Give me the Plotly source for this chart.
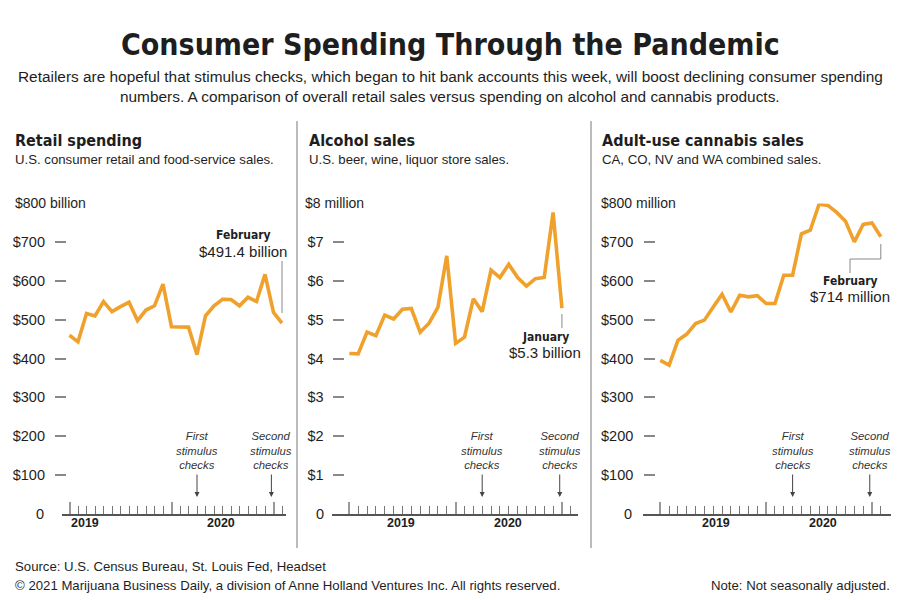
import plotly.graph_objects as go

# ---------------- data ----------------
months = ["Jan 2019", "Feb 2019", "Mar 2019", "Apr 2019", "May 2019", "Jun 2019",
          "Jul 2019", "Aug 2019", "Sep 2019", "Oct 2019", "Nov 2019", "Dec 2019",
          "Jan 2020", "Feb 2020", "Mar 2020", "Apr 2020", "May 2020", "Jun 2020",
          "Jul 2020", "Aug 2020", "Sep 2020", "Oct 2020", "Nov 2020", "Dec 2020",
          "Jan 2021", "Feb 2021"]
retail = [460, 443, 516, 510, 547, 521, 534, 545, 498, 525, 536, 592,
          482, 481, 481, 410, 510, 536, 553, 552, 536, 558, 547, 617, 519, 491.4]
alcohol = [4.13, 4.12, 4.68, 4.59, 5.12, 5.02, 5.27, 5.29, 4.68, 4.91, 5.32, 6.65,
           4.39, 4.55, 5.54, 5.21, 6.28, 6.09, 6.43, 6.09, 5.87, 6.06, 6.09, 7.77, 5.3]
cannabis = [395, 383, 447, 463, 490, 499, 533, 566, 520, 563, 559, 562,
            542, 542, 615, 615, 722, 731, 798, 795, 777, 754, 701, 746, 750, 714]

retail_ticks = [100, 200, 300, 400, 500, 600, 700]
retail_ticktext = ["$100", "$200", "$300", "$400", "$500", "$600", "$700"]
alcohol_ticks = [1, 2, 3, 4, 5, 6, 7]
alcohol_ticktext = ["$1", "$2", "$3", "$4", "$5", "$6", "$7"]
cannabis_ticks = retail_ticks
cannabis_ticktext = retail_ticktext
year_labels = ["2019", "2020"]
first_stimulus = 15      # April 2020 (month index)
second_stimulus = 23.75  # late Dec 2020 / early Jan 2021

ORANGE = "#F0A12C"
TXT = "#1e1e1e"
NARROW = "DejaVu Sans Condensed, DejaVu Sans, sans-serif"
BODY = "Liberation Sans, Arial, sans-serif"


def X(px):
    return px / 900.0


def Y(py):
    return 1 - py / 600.0


fig = go.Figure()

panels = [
    dict(key="", series=retail, top=800, ticks=retail_ticks, ticktext=retail_ticktext,
         x0=62, x1=286, i0=69.5, step=8.5, tick_left=54, standoff=9,
         unit_label="$800 billion", unit_x=13,
         head="Retail spending", sub="U.S. consumer retail and food-service sales.", head_x=13,
         year_px=[84.5, 221], nticks=26, zero_x=46),
    dict(key="2", series=alcohol, top=8, ticks=alcohol_ticks, ticktext=alcohol_ticktext,
         x0=331.7, x1=577.7, i0=349.3, step=8.86, tick_left=331.7, standoff=8,
         unit_label="$8 million", unit_x=303.3,
         head="Alcohol sales", sub="U.S. beer, wine, liquor store sales.", head_x=307,
         year_px=[401, 508], nticks=26, zero_x=325.7),
    dict(key="3", series=cannabis, top=800, ticks=cannabis_ticks, ticktext=cannabis_ticktext,
         x0=643.3, x1=890.7, i0=660.3, step=8.82, tick_left=643.3, standoff=10,
         unit_label="$800 million", unit_x=599.3,
         head="Adult-use cannabis sales", sub="CA, CO, NV and WA combined sales.", head_x=600,
         year_px=[716.3, 823.3], nticks=26, zero_x=634.3),
]

y_bottom_px, y_top_px = 513.5, 203.5
annotations = []
shapes = []

for p in panels:
    k = p["key"]
    xa = "x" + k
    ya = "y" + k
    idx = list(range(len(p["series"])))
    fig.add_trace(go.Scatter(x=idx, y=p["series"], mode="lines", xaxis=xa, yaxis=ya,
                             line=dict(color=ORANGE, width=3.6), hoverinfo="skip",
                             cliponaxis=False, showlegend=False))
    xr = [(p["x0"] - p["i0"]) / p["step"], (p["x1"] - p["i0"]) / p["step"]]
    fig.layout["xaxis" + k] = dict(
        domain=[X(p["x0"]), X(p["x1"])], range=xr, anchor=ya,
        showline=True, linecolor="#555", linewidth=1.5,
        showgrid=False, zeroline=False, showticklabels=False,
        ticks="inside", tickmode="array", tickvals=[0, 12, 24], ticklen=12,
        tickwidth=1.5, tickcolor="#999",
        minor=dict(tickmode="array", tickvals=list(range(p["nticks"])), ticks="inside",
                   ticklen=8, tickwidth=1.2, tickcolor="#777", showgrid=False),
        fixedrange=True)
    fig.layout["yaxis" + k] = dict(
        domain=[Y(y_bottom_px), Y(y_top_px)], range=[0, p["top"]],
        anchor="free", position=X(p["tick_left"]),
        showline=False, showgrid=False, zeroline=False,
        ticks="inside", ticklen=11, tickwidth=1.5, tickcolor="#888",
        tickmode="array", tickvals=p["ticks"], ticktext=p["ticktext"],
        tickfont=dict(family=BODY, size=14.5, color=TXT),
        ticklabelstandoff=p["standoff"], fixedrange=True)

    # zero label
    annotations.append(dict(x=X(p["zero_x"]), y=0, xref="paper", yref=ya,
                            text="0", showarrow=False, xanchor="right", yanchor="middle",
                            font=dict(family=BODY, size=14.5, color=TXT)))
    # unit label
    annotations.append(dict(x=X(p["unit_x"]), y=p["top"], xref="paper", yref=ya,
                            text=p["unit_label"], showarrow=False, xanchor="left",
                            yanchor="middle", font=dict(family=BODY, size=14, color=TXT)))
    # headings
    annotations.append(dict(x=X(p["head_x"]), y=Y(140), xref="paper", yref="paper",
                            text="<b>" + p["head"] + "</b>", showarrow=False, xanchor="left",
                            yanchor="middle", font=dict(family=NARROW, size=16, color=TXT)))
    annotations.append(dict(x=X(p["head_x"]), y=Y(160), xref="paper", yref="paper",
                            text=p["sub"], showarrow=False, xanchor="left",
                            yanchor="middle", font=dict(family=BODY, size=13.2, color=TXT)))
    # year labels
    for lab, px in zip(year_labels, p["year_px"]):
        annotations.append(dict(x=(px - p["i0"]) / p["step"], y=Y(523), xref=xa, yref="paper",
                                text="<b>" + lab + "</b>", showarrow=False, xanchor="center",
                                yanchor="middle", font=dict(family=BODY, size=12.5, color=TXT)))
    # stimulus notes
    for sx, note in [(first_stimulus, "First<br>stimulus<br>checks"),
                     (second_stimulus, "Second<br>stimulus<br>checks")]:
        annotations.append(dict(x=sx, y=Y(450.5), xref=xa, yref="paper",
                                text="<i>" + note + "</i>", showarrow=False, xanchor="center",
                                yanchor="middle", align="center",
                                font=dict(family=BODY, size=11.3, color="#333")))
        annotations.append(dict(x=sx, y=Y(497), xref=xa, yref="paper", text="",
                                showarrow=True, ax=0, ay=-24, arrowhead=2, arrowsize=1,
                                arrowwidth=1, arrowcolor="#444"))


# value call-outs
def callout(xa, xi, cy, bold, value):
    annotations.append(dict(x=xi, y=Y(cy), xref=xa, yref="paper", text="<b>" + bold + "</b>",
                            showarrow=False, xanchor="center", yanchor="middle",
                            font=dict(family=NARROW, size=12, color=TXT)))
    annotations.append(dict(x=xi, y=Y(cy + 16), xref=xa, yref="paper", text=value,
                            showarrow=False, xanchor="center", yanchor="middle",
                            font=dict(family=BODY, size=15, color=TXT)))


p1, p2, p3 = panels
last1 = len(retail) - 1
last2 = len(alcohol) - 1
last3 = len(cannabis) - 1
callout("x", (243 - p1["i0"]) / p1["step"], 235, "February", "$491.4 billion")
shapes.append(dict(type="line", xref="x", yref="paper", x0=last1, x1=last1,
                   y0=Y(261), y1=Y(313), line=dict(color="#888", width=1)))
callout("x2", (545 - p2["i0"]) / p2["step"], 336.7, "January", "$5.3 billion")
shapes.append(dict(type="line", xref="x2", yref="paper", x0=last2, x1=last2,
                   y0=Y(314), y1=Y(328), line=dict(color="#888", width=1)))
cx3 = (850 - p3["i0"]) / p3["step"]
callout("x3", cx3, 280.7, "February", "$714 million")
shapes.append(dict(type="path", xref="x3", yref="paper",
                   path="M %f %f L %f %f L %f %f L %f %f" % (last3, Y(244), last3, Y(259),
                                                             cx3, Y(259), cx3, Y(273)),
                   line=dict(color="#888", width=1)))

# dividers
for dx in [297, 591]:
    shapes.append(dict(type="line", xref="paper", yref="paper", x0=X(dx), x1=X(dx),
                       y0=Y(121), y1=Y(548), line=dict(color="#bbbbbb", width=2)))

# title, subtitle, footer
annotations.append(dict(x=0.5, y=Y(45), xref="paper", yref="paper",
                        text="<b>Consumer Spending Through the Pandemic</b>", showarrow=False,
                        xanchor="center", yanchor="middle",
                        font=dict(family=NARROW, size=30, color=TXT)))
annotations.append(dict(x=0.5, y=Y(77), xref="paper", yref="paper",
                        text="Retailers are hopeful that stimulus checks, which began to hit bank accounts this week, will boost declining consumer spending",
                        showarrow=False, xanchor="center", yanchor="middle",
                        font=dict(family=BODY, size=15.4, color=TXT)))
annotations.append(dict(x=0.5, y=Y(97), xref="paper", yref="paper",
                        text="numbers. A comparison of overall retail sales versus spending on alcohol and cannabis products.",
                        showarrow=False, xanchor="center", yanchor="middle",
                        font=dict(family=BODY, size=15.4, color=TXT)))
annotations.append(dict(x=X(13), y=Y(566), xref="paper", yref="paper",
                        text="Source: U.S. Census Bureau, St. Louis Fed, Headset",
                        showarrow=False, xanchor="left", yanchor="middle",
                        font=dict(family=BODY, size=13.2, color=TXT)))
annotations.append(dict(x=X(13), y=Y(585), xref="paper", yref="paper",
                        text="© 2021 Marijuana Business Daily, a division of Anne Holland Ventures Inc. All rights reserved.",
                        showarrow=False, xanchor="left", yanchor="middle",
                        font=dict(family=BODY, size=13.2, color=TXT)))
annotations.append(dict(x=X(892), y=Y(585), xref="paper", yref="paper",
                        text="Note: Not seasonally adjusted.",
                        showarrow=False, xanchor="right", yanchor="middle",
                        font=dict(family=BODY, size=13.2, color=TXT)))

fig.update_layout(width=900, height=600, margin=dict(l=0, r=0, t=0, b=0),
                  paper_bgcolor="white", plot_bgcolor="white",
                  annotations=annotations, shapes=shapes, showlegend=False)

fig.write_html("out.html", config={"displayModeBar": False},
               post_script="document.body.style.margin='0px';document.body.style.padding='0px';"
                           "document.documentElement.style.overflow='hidden';")
